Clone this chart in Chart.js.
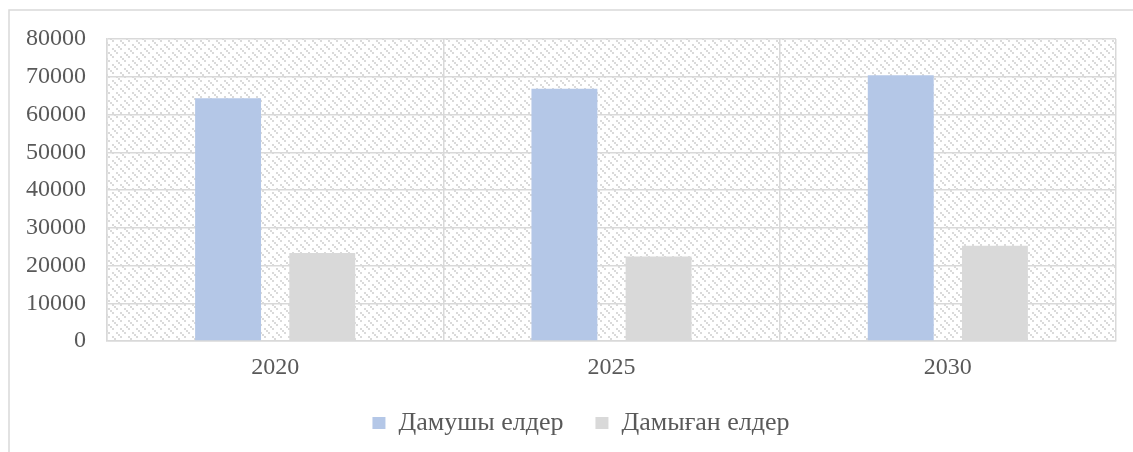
<!DOCTYPE html>
<html>
<head>
<meta charset="utf-8">
<title>Chart</title>
<script src="https://cdn.jsdelivr.net/npm/chart.js@4.4.1/dist/chart.umd.min.js"></script>
<style>
    html, body { margin: 0; padding: 0; background: #ffffff; }
    #wrap { position: relative; width: 1133px; height: 452px; }
</style>
</head>
<body>
<div id="wrap"><canvas id="mainChart"></canvas></div>
<script>
// Chart data
const years = ['2020', '2025', '2030'];
const developingLabel = 'Дамушы елдер';
const developedLabel = 'Дамыған елдер';
const developingValues = [64300, 66800, 70400];
const developedValues = [23300, 22400, 25250];
const yTicks = [0, 10000, 20000, 30000, 40000, 50000, 60000, 70000, 80000];

const textColor = '#595959';
const lineColor = '#d9d9d9';
const fontFamily = "'Liberation Serif', 'Times New Roman', serif";

// Hatched background tile for the plot area (dashed downward diagonals)
function makeHatch() {
    const tile = document.createElement('canvas');
    tile.width = 16;
    tile.height = 16;
    const t = tile.getContext('2d');
    t.fillStyle = '#ffffff';
    t.fillRect(0, 0, 16, 16);
    t.fillStyle = '#dadada';
    for (let i = 0; i < 8; i++) {
        if (i % 4 !== 3) t.fillRect((i * 2) % 16, i * 2, 2, 2);
        if ((i + 2) % 4 !== 3) t.fillRect((i * 2 + 8) % 16, i * 2, 2, 2);
    }
    return tile;
}

const backgroundPlugin = {
    id: 'backgroundPlugin',
    afterLayout(chart) {
        // nudge the legend to the right, like the original
        if (chart.legend) chart.legend.left += 46;
    },
    beforeDraw(chart) {
        const ctx = chart.ctx;
        const area = chart.chartArea;
        ctx.save();
        // outer chart border
        ctx.strokeStyle = lineColor;
        ctx.lineWidth = 1.5;
        ctx.beginPath();
        ctx.moveTo(9, chart.height);
        ctx.lineTo(9, 10);
        ctx.lineTo(chart.width, 10);
        ctx.stroke();
        // plot area hatch
        ctx.fillStyle = ctx.createPattern(makeHatch(), 'repeat');
        ctx.fillRect(area.left, area.top, area.right - area.left, area.bottom - area.top);
        ctx.restore();
    }
};

document.addEventListener('DOMContentLoaded', function() {
    const ctx = document.getElementById('mainChart').getContext('2d');
    new Chart(ctx, {
        type: 'bar',
        data: {
            labels: years,
            datasets: [{
                label: developingLabel,
                data: developingValues,
                backgroundColor: '#b4c7e7',
                borderWidth: 0
            }, {
                label: developedLabel,
                data: developedValues,
                backgroundColor: '#d9d9d9',
                borderWidth: 0
            }]
        },
        options: {
            responsive: true,
            maintainAspectRatio: false,
            animation: false,
            categoryPercentage: 0.56,
            barPercentage: 0.70,
            layout: {
                padding: { left: 0, top: 39, right: 17, bottom: 6 }
            },
            plugins: {
                legend: {
                    position: 'bottom',
                    labels: {
                        color: textColor,
                        font: { family: fontFamily, size: 26 },
                        boxWidth: 13,
                        boxHeight: 12,
                        padding: 32
                    }
                },
                tooltip: { enabled: false }
            },
            scales: {
                x: {
                    grid: {
                        color: lineColor,
                        lineWidth: 1.5,
                        drawTicks: false
                    },
                    border: { color: lineColor, width: 1.5 },
                    ticks: {
                        color: textColor,
                        font: { family: fontFamily, size: 24 },
                        padding: 12
                    },
                    afterFit(scale) {
                        scale.height = 37;
                    }
                },
                y: {
                    min: 0,
                    max: 80000,
                    afterBuildTicks(scale) {
                        scale.ticks = yTicks.map(v => ({ value: v }));
                    },
                    grid: {
                        color: lineColor,
                        lineWidth: 1.5,
                        drawTicks: false
                    },
                    border: { color: lineColor, width: 1.5 },
                    ticks: {
                        color: textColor,
                        font: { family: fontFamily, size: 24 },
                        padding: 21,
                        callback: v => String(v)
                    },
                    afterFit(scale) {
                        scale.width = 107;
                    }
                }
            }
        },
        plugins: [backgroundPlugin]
    });
});
</script>
</body>
</html>
